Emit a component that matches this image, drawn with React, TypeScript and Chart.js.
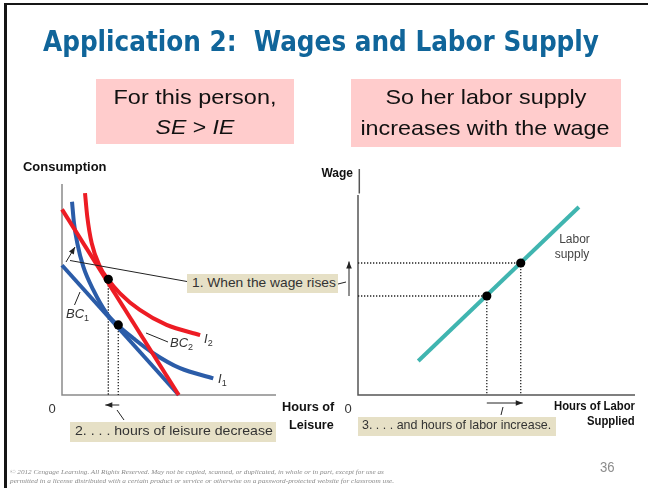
import React, { useEffect, useLayoutEffect, useRef } from "react";
import { Chart, registerables } from "chart.js";
Chart.register(...registerables);

// ---------- Left panel: leisure vs consumption ----------
const leisureMax = 44;
const consumptionMax = 100;
const budgetLeisure = [0, 24];
const bc1Consumption = [61.5, 0];
const bc2Consumption = [88, 0];
const i1Leisure = [2.06, 2.47, 3.15, 4.38, 6.43, 9.19, 11.57, 14.66, 18.77, 24.26, 31.1];
const i1Consumption = [91.6, 81.4, 71.9, 60.8, 49.8, 38.7, 32.8, 26.9, 19.8, 12.7, 7.9];
const i2Leisure = [4.73, 5.2, 6.11, 7.81, 9.4, 11.92, 16.0, 21.5, 28.4];
const i2Consumption = [95.7, 84.5, 71.9, 60.8, 55.0, 48.2, 40.3, 33.2, 28.4];
const optimumLeisure = [11.57, 9.52];
const optimumConsumption = [33.2, 54.8];

// ---------- Right panel: hours of labor vs wage ----------
const laborMax = 40;
const wageMax = 20;
const supplyHours = [8.7, 31.9];
const supplyWage = [3.4, 18.8];
const pointHours = [18.6, 23.5];
const pointWage = [9.9, 13.2];

const RED = "#ed1c24";
const BLUE = "#2b5ca8";
const TEAL = "#40b5b0";
const TAN = "#e6e0c6";
const PINK = "#ffcccc";

const zip = (xs: number[], ys: number[]) => xs.map((x, i) => ({ x, y: ys[i] }));

function arrow(ctx: CanvasRenderingContext2D, x1: number, y1: number, x2: number, y2: number, head = 7, half = 2.8) {
  ctx.beginPath();
  ctx.moveTo(x1, y1);
  ctx.lineTo(x2, y2);
  ctx.stroke();
  const a = Math.atan2(y2 - y1, x2 - x1);
  const bx = x2 - head * Math.cos(a);
  const by = y2 - head * Math.sin(a);
  ctx.beginPath();
  ctx.moveTo(x2, y2);
  ctx.lineTo(bx + half * Math.sin(a), by - half * Math.cos(a));
  ctx.lineTo(bx - half * Math.sin(a), by + half * Math.cos(a));
  ctx.closePath();
  ctx.fill();
}
function seg(ctx: CanvasRenderingContext2D, x1: number, y1: number, x2: number, y2: number) {
  ctx.beginPath();
  ctx.moveTo(x1, y1);
  ctx.lineTo(x2, y2);
  ctx.stroke();
}

const leftDecor = {
  id: "leftDecor",
  beforeDatasetsDraw(chart: any) {
    const { ctx, chartArea: a, scales } = chart;
    ctx.save();
    ctx.strokeStyle = "#8a8a8a";
    ctx.lineWidth = 1.5;
    ctx.beginPath();
    ctx.moveTo(a.left, a.top);
    ctx.lineTo(a.left, a.bottom);
    ctx.lineTo(a.right, a.bottom);
    ctx.stroke();
    ctx.strokeStyle = "#222";
    ctx.lineWidth = 1.3;
    ctx.setLineDash([1.3, 1.7]);
    optimumLeisure.forEach((L, i) => {
      const px = scales.x.getPixelForValue(L);
      const py = scales.y.getPixelForValue(optimumConsumption[i]);
      seg(ctx, px, py, px, a.bottom);
    });
    ctx.restore();
  },
  afterDatasetsDraw(chart: any) {
    const { ctx, scales } = chart;
    ctx.save();
    ctx.strokeStyle = "#222";
    ctx.fillStyle = "#222";
    ctx.lineWidth = 1;
    arrow(ctx, 66, 262, 75, 247);
    seg(ctx, 70, 260.5, 187, 281.5);
    seg(ctx, 80, 292, 74.5, 305);
    seg(ctx, 146, 333, 168, 342);
    const xb = scales.x.getPixelForValue(optimumLeisure[0]);
    const xr = scales.x.getPixelForValue(optimumLeisure[1]);
    arrow(ctx, xb + 1, 405, xr - 3, 405);
    seg(ctx, 117, 410, 124, 420);
    ctx.restore();
  },
};

const rightDecor = {
  id: "rightDecor",
  beforeDatasetsDraw(chart: any) {
    const { ctx, chartArea: a, scales } = chart;
    ctx.save();
    ctx.strokeStyle = "#555";
    ctx.lineWidth = 1.5;
    ctx.beginPath();
    ctx.moveTo(a.left, a.top);
    ctx.lineTo(a.left, a.bottom);
    ctx.lineTo(a.right, a.bottom);
    ctx.stroke();
    seg(ctx, a.left + 1.3, 169, a.left + 1.3, 193.5);
    ctx.strokeStyle = "#222";
    ctx.lineWidth = 1.3;
    ctx.setLineDash([1.3, 1.7]);
    pointHours.forEach((h, i) => {
      const px = scales.x.getPixelForValue(h);
      const py = scales.y.getPixelForValue(pointWage[i]);
      seg(ctx, a.left, py, px, py);
      seg(ctx, px, py, px, a.bottom);
    });
    ctx.restore();
  },
  afterDatasetsDraw(chart: any) {
    const { ctx, scales } = chart;
    ctx.save();
    ctx.strokeStyle = "#222";
    ctx.fillStyle = "#222";
    ctx.lineWidth = 1;
    const y0 = scales.y.getPixelForValue(pointWage[0]);
    const y1 = scales.y.getPixelForValue(pointWage[1]);
    arrow(ctx, 349, y0, 349, y1 - 1.5);
    seg(ctx, 338, 284, 346, 282);
    const x0 = scales.x.getPixelForValue(pointHours[0]);
    const x1 = scales.x.getPixelForValue(pointHours[1]);
    arrow(ctx, x0, 403, x1 + 2, 403);
    seg(ctx, 503, 407, 501, 415);
    ctx.restore();
  },
};

function Txt({ x, y, size, w, align = "left", children, style }: any) {
  const ref = useRef<HTMLSpanElement>(null);
  useLayoutEffect(() => {
    const el = ref.current;
    if (!el) return;
    const nat = el.offsetWidth;
    const s = w && nat ? w / nat : 1;
    el.style.transform = align === "center" ? `translateX(-50%) scaleX(${s})` : `scaleX(${s})`;
  }, [w, align]);
  const spanStyle: React.CSSProperties = {
    position: "absolute",
    whiteSpace: "pre",
    lineHeight: `${size}px`,
    fontSize: size,
    transformOrigin: align === "left" ? "left center" : align === "right" ? "right center" : "center center",
    ...(align === "right" ? { right: 0 } : { left: 0 }),
    ...style,
  };
  return (
    <div style={{ position: "absolute", left: x, top: y - size * 0.8465, width: 0, height: size }}>
      <span ref={ref} style={spanStyle}>
        {children}
      </span>
    </div>
  );
}

const box = (left: number, top: number, width: number, height: number, bg: string): React.CSSProperties => ({
  position: "absolute",
  left,
  top,
  width,
  height,
  background: bg,
});

export default function App() {
  const leftRef = useRef<HTMLCanvasElement>(null);
  const rightRef = useRef<HTMLCanvasElement>(null);

  useEffect(() => {
    const line = (data: any[], color: string, curve: boolean) => ({
      data,
      showLine: true,
      pointRadius: 0,
      borderColor: color,
      borderWidth: 4,
      fill: false,
      clip: false as any,
      cubicInterpolationMode: curve ? "monotone" : "default",
    });
    const left = new Chart(leftRef.current!, {
      type: "scatter",
      data: {
        datasets: [
          {
            data: zip(optimumLeisure, optimumConsumption),
            pointRadius: 4.6,
            pointBackgroundColor: "#000",
            pointBorderWidth: 0,
            showLine: false,
          } as any,
          line(zip(budgetLeisure, bc2Consumption), RED, false),
          line(zip(i2Leisure, i2Consumption), RED, true),
          line(zip(budgetLeisure, bc1Consumption), BLUE, false),
          line(zip(i1Leisure, i1Consumption), BLUE, true),
        ],
      },
      options: {
        responsive: false,
        animation: false,
        devicePixelRatio: 1,
        events: [],
        layout: { padding: { left: 62, top: 184, right: 372, bottom: 93 } },
        plugins: { legend: { display: false }, tooltip: { enabled: false } },
        scales: {
          x: { type: "linear", min: 0, max: leisureMax, display: false },
          y: { type: "linear", min: 0, max: consumptionMax, display: false },
        },
      },
      plugins: [leftDecor],
    });
    const right = new Chart(rightRef.current!, {
      type: "scatter",
      data: {
        datasets: [
          {
            data: zip(pointHours, pointWage),
            pointRadius: 4.6,
            pointBackgroundColor: "#000",
            pointBorderWidth: 0,
            showLine: false,
          } as any,
          line(zip(supplyHours, supplyWage), TEAL, false),
        ],
      },
      options: {
        responsive: false,
        animation: false,
        devicePixelRatio: 1,
        events: [],
        layout: { padding: { left: 358, top: 195, right: 13, bottom: 93 } },
        plugins: { legend: { display: false }, tooltip: { enabled: false } },
        scales: {
          x: { type: "linear", min: 0, max: laborMax, display: false },
          y: { type: "linear", min: 0, max: wageMax, display: false },
        },
      },
      plugins: [rightDecor],
    });
    return () => {
      left.destroy();
      right.destroy();
    };
  }, []);

  const sans = '"Liberation Sans", Arial, sans-serif';
  const bold = { fontWeight: 700, color: "#111" };
  const lbl = { color: "#333" };

  return (
    <div
      style={{
        position: "fixed",
        left: 0,
        top: 0,
        width: 648,
        height: 488,
        background: "#fff",
        overflow: "hidden",
        fontFamily: sans,
      }}
    >
      <div
        style={{
          position: "absolute",
          left: 4,
          top: 3,
          width: 700,
          height: 600,
          borderTop: "2px solid #161616",
          borderLeft: "3px solid #161616",
        }}
      />
      <canvas ref={leftRef} width={648} height={488} style={{ position: "absolute", left: 0, top: 0 }} />
      <canvas ref={rightRef} width={648} height={488} style={{ position: "absolute", left: 0, top: 0 }} />

      {/* Title */}
      <Txt
        x={43}
        y={52}
        size={29}
        w={556}
        style={{ fontFamily: '"DejaVu Sans", sans-serif', fontStretch: "condensed", fontWeight: 700, color: "#10659a" }}
      >
        {"Application 2:  Wages and Labor Supply"}
      </Txt>

      {/* Pink callouts */}
      <div style={box(96, 79, 198, 65, PINK)} />
      <div style={box(351, 79, 270, 68, PINK)} />
      <Txt x={194.5} y={103.3} size={21} w={163} align="center" style={{ color: "#111" }}>
        For this person,
      </Txt>
      <Txt x={194.5} y={133.3} size={21} w={79} align="center" style={{ color: "#111" }}>
        <i>SE</i>
        {" > "}
        <i>IE</i>
      </Txt>
      <Txt x={485.5} y={104} size={21} w={201} align="center" style={{ color: "#111" }}>
        So her labor supply
      </Txt>
      <Txt x={484.5} y={135} size={21} w={249} align="center" style={{ color: "#111" }}>
        increases with the wage
      </Txt>

      {/* Axis titles */}
      <Txt x={23} y={172} size={12.5} w={84} style={bold}>
        Consumption
      </Txt>
      <Txt x={334} y={411.5} size={12} w={52} align="right" style={bold}>
        Hours of
      </Txt>
      <Txt x={334} y={429} size={12} w={45} align="right" style={bold}>
        Leisure
      </Txt>
      <Txt x={353} y={177.5} size={12} align="right" style={bold}>
        Wage
      </Txt>
      <Txt x={635} y={410} size={12} w={81} align="right" style={bold}>
        Hours of Labor
      </Txt>
      <Txt x={635} y={425.5} size={12} w={48} align="right" style={bold}>
        Supplied
      </Txt>
      <Txt x={52} y={413} size={13} align="center" style={lbl}>
        0
      </Txt>
      <Txt x={348} y={413} size={13} align="center" style={lbl}>
        0
      </Txt>

      {/* Curve labels */}
      <Txt x={66} y={318.3} size={13} style={lbl}>
        <i>BC</i>
        <sub style={{ fontSize: 9, verticalAlign: "-3px" }}>1</sub>
      </Txt>
      <Txt x={170} y={347} size={13} style={lbl}>
        <i>BC</i>
        <sub style={{ fontSize: 9, verticalAlign: "-3px" }}>2</sub>
      </Txt>
      <Txt x={204} y={343} size={13} style={lbl}>
        <i>I</i>
        <sub style={{ fontSize: 9, verticalAlign: "-3px" }}>2</sub>
      </Txt>
      <Txt x={218} y={383.3} size={13} style={lbl}>
        <i>I</i>
        <sub style={{ fontSize: 9, verticalAlign: "-3px" }}>1</sub>
      </Txt>
      <Txt x={574.5} y={242.7} size={12} align="center" style={{ color: "#444" }}>
        Labor
      </Txt>
      <Txt x={572} y={258} size={12} align="center" style={{ color: "#444" }}>
        supply
      </Txt>

      {/* Tan annotation boxes */}
      <div style={box(187, 274, 151, 19, TAN)} />
      <div style={box(70, 422, 206, 20, TAN)} />
      <div style={box(358, 417, 198, 18.5, TAN)} />
      <Txt x={191.7} y={286.7} size={13} w={144} style={lbl}>
        1. When the wage rises
      </Txt>
      <Txt x={75} y={435} size={13.5} w={197.7} style={lbl}>
        2. . . . hours of leisure decrease
      </Txt>
      <Txt x={362} y={429.3} size={13} w={189} style={lbl}>
        3. . . . and hours of labor increase.
      </Txt>

      {/* Footer */}
      <Txt x={600} y={472} size={14} w={15} style={{ color: "#8c8c8c" }}>
        36
      </Txt>
      <Txt
        x={10}
        y={475}
        size={6.6}
        w={374}
        style={{ fontFamily: '"Liberation Serif", serif', fontStyle: "italic", color: "#8a8a8a" }}
      >
        © 2012 Cengage Learning. All Rights Reserved. May not be copied, scanned, or duplicated, in whole or in part, except for use as
      </Txt>
      <Txt
        x={10}
        y={484}
        size={6.6}
        w={384}
        style={{ fontFamily: '"Liberation Serif", serif', fontStyle: "italic", color: "#8a8a8a" }}
      >
        permitted in a license distributed with a certain product or service or otherwise on a password-protected website for classroom use.
      </Txt>
    </div>
  );
}
